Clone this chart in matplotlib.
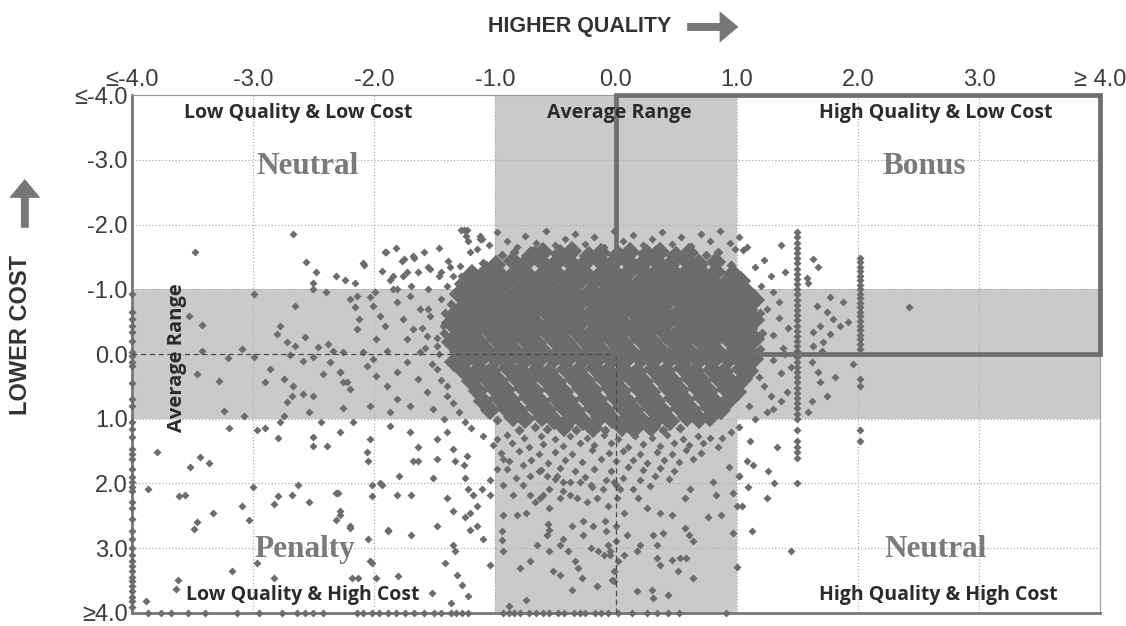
import matplotlib.pyplot as plt
from matplotlib.patches import Rectangle
import numpy as np

# axis ticks (values beyond +-4 are clamped onto the border)
ticks = [-4, -3, -2, -1, 0, 1, 2, 3, 4]
x_tick_labels = ['≤-4.0', '-3.0', '-2.0', '-1.0', '0.0', '1.0', '2.0', '3.0', '≥ 4.0']
y_tick_labels = ['≤-4.0', '-3.0', '-2.0', '-1.0', '0.0', '1.0', '2.0', '3.0', '≥4.0']

# dense centre of the cloud (quality, cost)
core_pts = [
    (-0.94, -1.53), (-0.84, -1.58), (-0.70, -1.52), (-0.60, -1.57), (-0.46, -1.54), (-0.36, -1.59), (-0.22, -1.52), (-0.12, -1.56),
    (0.02, -1.53), (0.12, -1.58), (0.26, -1.54), (0.36, -1.57), (0.50, -1.52), (0.60, -1.56), (0.74, -1.53), (0.84, -1.58),
    (-1.10, -1.41), (-0.99, -1.38), (-0.85, -1.43), (-0.75, -1.39), (-0.61, -1.42), (-0.51, -1.37), (-0.37, -1.41), (-0.27, -1.38),
    (-0.13, -1.43), (-0.03, -1.39), (0.11, -1.42), (0.21, -1.37), (0.35, -1.41), (0.45, -1.38), (0.59, -1.43), (0.69, -1.39),
    (0.83, -1.42), (0.95, -1.38),
    (-1.19, -1.23), (-1.07, -1.28), (-0.97, -1.24), (-0.83, -1.27), (-0.73, -1.22), (-0.59, -1.26), (-0.49, -1.23), (-0.35, -1.28),
    (-0.25, -1.24), (-0.11, -1.27), (0.01, -1.22), (0.11, -1.26), (0.25, -1.23), (0.35, -1.28), (0.49, -1.24), (0.59, -1.27),
    (0.73, -1.22), (0.83, -1.26), (0.97, -1.23),
    (-1.26, -1.08), (-1.13, -1.12), (-1.03, -1.09), (-0.89, -1.13), (-0.79, -1.08), (-0.65, -1.11), (-0.55, -1.07), (-0.41, -1.12),
    (-0.31, -1.09), (-0.17, -1.13), (-0.07, -1.08), (0.07, -1.11), (0.17, -1.07), (0.31, -1.12), (0.41, -1.09), (0.55, -1.13),
    (0.65, -1.08), (0.79, -1.11), (0.89, -1.07), (1.03, -1.12),
    (-1.30, -0.93), (-1.17, -0.97), (-1.07, -0.94), (-0.93, -0.98), (-0.83, -0.93), (-0.69, -0.96), (-0.59, -0.92), (-0.45, -0.97),
    (-0.35, -0.94), (-0.21, -0.98), (-0.11, -0.93), (0.03, -0.96), (0.13, -0.92), (0.27, -0.97), (0.37, -0.94), (0.51, -0.98),
    (0.61, -0.93), (0.75, -0.96), (0.85, -0.92), (0.99, -0.97), (1.09, -0.94),
    (-1.36, -0.78), (-1.23, -0.82), (-1.13, -0.79), (-0.99, -0.83), (-0.89, -0.78), (-0.75, -0.81), (-0.65, -0.77), (-0.51, -0.82),
    (-0.41, -0.79), (-0.27, -0.83), (-0.17, -0.78), (-0.03, -0.81), (0.07, -0.77), (0.21, -0.82), (0.31, -0.79), (0.45, -0.83),
    (0.55, -0.78), (0.69, -0.81), (0.79, -0.77), (0.93, -0.82), (1.03, -0.79), (1.15, -0.83),
    (-1.41, -0.63), (-1.30, -0.67), (-1.17, -0.64), (-1.07, -0.68), (-0.93, -0.63), (-0.83, -0.66), (-0.69, -0.62), (-0.59, -0.67),
    (-0.45, -0.64), (-0.35, -0.68), (-0.21, -0.63), (-0.11, -0.66), (0.03, -0.62), (0.13, -0.67), (0.27, -0.64), (0.37, -0.68),
    (0.51, -0.63), (0.61, -0.66), (0.75, -0.62), (0.85, -0.67), (0.99, -0.64), (1.09, -0.68), (1.19, -0.63),
    (-1.36, -0.48), (-1.23, -0.52), (-1.13, -0.49), (-0.99, -0.53), (-0.89, -0.48), (-0.75, -0.51), (-0.65, -0.47), (-0.51, -0.52),
    (-0.41, -0.49), (-0.27, -0.53), (-0.17, -0.48), (-0.03, -0.51), (0.07, -0.47), (0.21, -0.52), (0.31, -0.49), (0.45, -0.53),
    (0.55, -0.48), (0.69, -0.51), (0.79, -0.47), (0.93, -0.52), (1.03, -0.49), (1.15, -0.53),
    (-1.42, -0.33), (-1.30, -0.37), (-1.17, -0.34), (-1.07, -0.38), (-0.93, -0.33), (-0.83, -0.36), (-0.69, -0.32), (-0.59, -0.37),
    (-0.45, -0.34), (-0.35, -0.38), (-0.21, -0.33), (-0.11, -0.36), (0.03, -0.32), (0.13, -0.37), (0.27, -0.34), (0.37, -0.38),
    (0.51, -0.33), (0.61, -0.36), (0.75, -0.32), (0.85, -0.37), (0.99, -0.34), (1.09, -0.38), (1.21, -0.33),
    (-1.36, -0.18), (-1.23, -0.22), (-1.13, -0.19), (-0.99, -0.23), (-0.89, -0.18), (-0.75, -0.21), (-0.65, -0.17), (-0.51, -0.22),
    (-0.41, -0.19), (-0.27, -0.23), (-0.17, -0.18), (-0.03, -0.21), (0.07, -0.17), (0.21, -0.22), (0.31, -0.19), (0.45, -0.23),
    (0.55, -0.18), (0.69, -0.21), (0.79, -0.17), (0.93, -0.22), (1.03, -0.19), (1.15, -0.23),
    (-1.30, -0.03), (-1.17, -0.07), (-1.07, -0.04), (-0.93, -0.08), (-0.83, -0.03), (-0.69, -0.06), (-0.59, -0.02), (-0.45, -0.07),
    (-0.35, -0.04), (-0.21, -0.08), (-0.11, -0.03), (0.03, -0.06), (0.13, -0.02), (0.27, -0.07), (0.37, -0.04), (0.51, -0.08),
    (0.61, -0.03), (0.75, -0.06), (0.85, -0.02), (0.99, -0.07), (1.09, -0.04), (1.19, -0.08),
    (-1.34, 0.12), (-1.23, 0.08), (-1.13, 0.11), (-0.99, 0.07), (-0.89, 0.12), (-0.75, 0.09), (-0.65, 0.13), (-0.51, 0.08),
    (-0.41, 0.11), (-0.27, 0.07), (-0.17, 0.12), (-0.03, 0.09), (0.07, 0.13), (0.21, 0.08), (0.31, 0.11), (0.45, 0.07),
    (0.55, 0.12), (0.69, 0.09), (0.79, 0.13), (0.93, 0.08), (1.03, 0.11), (1.14, 0.07),
    (-1.26, 0.27), (-1.13, 0.23), (-1.03, 0.26), (-0.89, 0.22), (-0.79, 0.27), (-0.65, 0.24), (-0.55, 0.28), (-0.41, 0.23),
    (-0.31, 0.26), (-0.17, 0.22), (-0.07, 0.27), (0.07, 0.24), (0.17, 0.28), (0.31, 0.23), (0.41, 0.26), (0.55, 0.22),
    (0.65, 0.27), (0.79, 0.24), (0.89, 0.28), (1.03, 0.23), (1.10, 0.27),
    (-1.20, 0.42), (-1.07, 0.38), (-0.97, 0.41), (-0.83, 0.37), (-0.73, 0.42), (-0.59, 0.39), (-0.49, 0.43), (-0.35, 0.38),
    (-0.25, 0.41), (-0.11, 0.37), (-0.01, 0.42), (0.13, 0.39), (0.23, 0.43), (0.37, 0.38), (0.47, 0.41), (0.61, 0.37),
    (0.71, 0.42), (0.85, 0.39), (0.95, 0.43), (1.05, 0.38),
    (-1.14, 0.57), (-1.01, 0.53), (-0.91, 0.56), (-0.77, 0.52), (-0.67, 0.57), (-0.53, 0.54), (-0.43, 0.58), (-0.29, 0.53),
    (-0.19, 0.56), (-0.05, 0.52), (0.05, 0.57), (0.19, 0.54), (0.29, 0.58), (0.43, 0.53), (0.53, 0.56), (0.67, 0.52),
    (0.77, 0.57), (0.91, 0.54), (1.00, 0.58),
    (-1.10, 0.72), (-0.97, 0.68), (-0.87, 0.71), (-0.73, 0.67), (-0.63, 0.72), (-0.49, 0.69), (-0.39, 0.73), (-0.25, 0.68),
    (-0.15, 0.71), (-0.01, 0.67), (0.09, 0.72), (0.23, 0.69), (0.33, 0.73), (0.47, 0.68), (0.57, 0.71), (0.71, 0.67),
    (0.81, 0.72), (0.94, 0.69),
    (-1.04, 0.87), (-0.91, 0.83), (-0.81, 0.86), (-0.67, 0.82), (-0.57, 0.87), (-0.43, 0.84), (-0.33, 0.88), (-0.19, 0.83),
    (-0.09, 0.86), (0.05, 0.82), (0.15, 0.87), (0.29, 0.84), (0.39, 0.88), (0.53, 0.83), (0.63, 0.86), (0.77, 0.82), (0.87, 0.87),
    (-0.98, 1.02), (-0.85, 0.98), (-0.75, 1.01), (-0.61, 0.97), (-0.51, 1.02), (-0.37, 0.99), (-0.27, 1.03), (-0.13, 0.98),
    (-0.03, 1.01), (0.11, 0.97), (0.21, 1.02), (0.35, 0.99), (0.45, 1.03), (0.59, 0.98), (0.69, 1.01), (0.78, 0.97),
    (-0.80, 1.17), (-0.67, 1.13), (-0.57, 1.16), (-0.43, 1.12), (-0.33, 1.17), (-0.19, 1.14), (-0.09, 1.18), (0.05, 1.13),
    (0.15, 1.16), (0.29, 1.12), (0.39, 1.17), (0.53, 1.14),
]

# looser ring round the centre
fringe_pts = [
    (-1.28, -1.92), (-1.22, -1.75), (-1.12, -1.82), (-1.05, -1.68), (-0.98, -1.88), (-0.90, -1.74), (-0.82, -1.66), (-0.75, -1.83),
    (-0.66, -1.72), (-0.58, -1.90), (-0.50, -1.68), (-0.42, -1.78), (-0.34, -1.86), (-0.26, -1.70), (-0.18, -1.80), (-0.10, -1.66),
    (-0.02, -1.90), (0.06, -1.74), (0.14, -1.84), (0.22, -1.68), (0.30, -1.78), (0.38, -1.88), (0.46, -1.70), (0.54, -1.80),
    (0.62, -1.67), (0.70, -1.86), (0.78, -1.74), (0.86, -1.90), (0.94, -1.72), (1.02, -1.80), (1.08, -1.65), (0.98, -1.62),
    (0.32, -1.62), (-0.68, -1.62),
    (-2.67, -1.85), (-3.48, -1.57), (-2.56, -1.42), (-2.48, -1.26), (-2.31, -1.20), (-2.24, -1.15), (-2.16, -1.10), (-2.08, -1.38),
    (-1.90, -1.57), (-1.82, -1.64), (-1.75, -1.46), (-1.67, -1.49), (-1.59, -1.57), (-1.46, -1.64), (-1.26, -1.92), (-1.24, -1.82),
    (-1.12, -1.77), (-2.99, -0.92), (-2.65, -0.74), (-2.50, -1.10), (-2.50, -1.00), (-2.40, -0.95), (-1.93, -1.28), (-1.84, -1.20),
    (-1.73, -1.26), (-1.55, -1.35), (-1.46, -1.20), (-1.37, -1.35), (-1.28, -1.20), (-2.14, -0.90), (-1.99, -0.95), (-1.84, -1.00),
    (-1.69, -1.05), (-1.55, -1.00), (-1.40, -1.05), (-2.09, -1.41), (-1.91, -1.58), (-1.77, -1.43), (-1.68, -1.51), (-1.39, -1.43),
    (-1.29, -1.36), (-1.23, -1.92), (-1.21, -1.57), (-1.15, -1.62), (-1.11, -1.77), (-1.87, -1.15), (-1.76, -1.20), (-1.64, -1.26),
    (-1.54, -1.31), (-1.45, -1.26), (-1.35, -1.20), (-1.81, -1.00), (-2.20, -0.85), (-2.16, -0.72), (-2.03, -0.88), (-2.01, -0.74),
    (-2.12, -0.54), (-2.14, -0.38), (-1.95, -0.58), (-1.91, -0.43), (-1.81, -0.80), (-1.70, -0.89), (-1.62, -0.69), (-1.76, -0.54),
    (-1.68, -0.38), (-1.54, -0.58), (-1.45, -0.85), (-1.43, -0.43), (-1.37, -0.65), (-2.09, -0.03), (-2.01, 0.08), (-1.89, -0.05),
    (-2.28, 0.28), (-2.26, 0.43), (-2.20, 0.54), (-2.06, 0.18), (-1.98, 0.34), (-1.89, 0.49), (-1.81, 0.28), (-1.73, 0.12),
    (-1.64, 0.38), (-1.56, 0.58), (-1.81, 0.69), (-1.70, 0.80), (-1.87, 0.89), (-2.03, 0.80), (-1.48, 0.23), (-1.40, 0.49),
    (-1.51, 0.85), (-1.62, -0.03), (-1.48, -0.12), (-1.73, -0.23), (-1.56, -0.28), (-1.98, -0.23), (-2.26, -0.03),
    (-1.55, -0.70), (-1.60, -0.40), (-1.58, -0.10), (-1.52, 0.15), (-1.45, 0.40), (-1.40, 0.65), (-1.30, 0.90), (-1.25, 1.05),
    (-1.48, -0.25), (-1.46, 0.00), (-1.35, 0.75), (-1.42, 1.00), (-1.20, 1.15),
    (1.22, -1.45), (1.28, -1.20), (1.30, -0.95), (1.25, -0.70), (1.35, -0.55), (1.30, -0.30), (1.38, -0.10), (1.30, 0.10),
    (1.36, 0.30), (1.22, 0.50), (1.28, 0.65), (1.10, 0.80), (1.15, 1.00), (1.02, 1.12), (0.95, 1.20), (1.05, -1.60),
    (1.15, -1.35), (1.20, -1.05), (1.35, -0.80), (1.42, -0.40), (1.40, 0.00), (1.45, 0.20), (1.18, 0.35), (1.25, 0.90), (0.88, 1.30),
    (1.36, -1.69), (1.63, -1.46), (1.67, -1.34), (1.58, -1.18), (1.59, -1.10), (1.40, -1.26), (1.77, -0.88), (1.88, -0.80),
    (1.66, -0.74), (1.74, -0.65), (1.79, -0.54), (1.92, -0.49), (1.85, -0.43), (1.69, -0.43), (1.63, -0.34), (1.77, -0.31),
    (1.71, -0.18), (1.63, -0.12), (1.70, -0.05), (1.96, 0.15), (1.62, 0.12), (1.67, 0.28), (1.69, 0.43), (1.81, 0.35),
    (1.62, 0.72), (1.74, 0.65), (1.59, 0.89), (1.41, 0.58), (1.36, 0.72), (1.30, 0.85), (2.42, -0.72),
    (1.11, 1.35), (1.33, 1.43), (1.08, 1.66), (1.13, 1.72), (1.26, 1.80), (1.02, 1.88), (1.09, 2.06), (1.31, 2.00),
    (1.25, 2.22), (1.04, 2.35), (0.97, 2.77), (1.12, 2.74), (1.45, 3.05), (1.00, 3.29),
]

# lower half: the wedge below the centre
lower_pts = [
    (-1.10, 1.27), (-0.98, 1.31), (-0.90, 1.25), (-0.76, 1.30), (-0.62, 1.26), (-0.50, 1.32), (-0.38, 1.27), (-0.24, 1.30),
    (-0.10, 1.25), (0.02, 1.31), (0.16, 1.27), (0.30, 1.30), (0.42, 1.25), (0.55, 1.31), (0.68, 1.27), (0.78, 1.30),
    (-1.02, 1.41), (-0.86, 1.38), (-0.72, 1.43), (-0.60, 1.39), (-0.44, 1.42), (-0.30, 1.37), (-0.18, 1.41), (-0.04, 1.38),
    (0.10, 1.43), (0.22, 1.39), (0.36, 1.42), (0.48, 1.37), (0.60, 1.41), (0.72, 1.38), (0.84, 1.43),
    (-0.95, 1.53), (-0.80, 1.50), (-0.64, 1.55), (-0.50, 1.51), (-0.36, 1.54), (-0.20, 1.49), (-0.06, 1.53), (0.06, 1.50),
    (0.20, 1.55), (0.34, 1.51), (0.46, 1.54), (0.58, 1.49), (0.70, 1.53),
    (-0.88, 1.66), (-0.70, 1.63), (-0.56, 1.68), (-0.42, 1.64), (-0.28, 1.67), (-0.12, 1.62), (0.00, 1.66), (0.14, 1.63),
    (0.26, 1.68), (0.40, 1.64), (0.52, 1.67), (0.64, 1.62),
    (-0.62, 1.79), (-0.46, 1.76), (-0.34, 1.81), (-0.18, 1.77), (-0.04, 1.80), (0.10, 1.75), (0.22, 1.79), (0.36, 1.76), (0.48, 1.81),
    (-0.50, 1.93), (-0.26, 1.90), (-0.08, 1.95), (0.06, 1.91), (0.20, 1.94), (0.32, 1.89), (0.44, 1.93),
    (-0.20, 2.06), (0.00, 2.03), (0.14, 2.08), (0.28, 2.04),
    (-0.02, 3.51), (0.17, 3.66), (0.30, 3.64), (0.31, 3.77), (0.43, 3.72), (0.51, 3.35), (0.64, 3.46), (0.58, 3.15),
    (0.46, 3.18), (0.36, 3.26), (0.34, 3.15), (0.20, 2.95), (0.17, 3.05), (0.07, 3.11), (0.02, 3.20), (-0.10, 3.11),
    (0.00, 2.89), (0.09, 2.80), (0.31, 2.80), (0.39, 2.77), (0.34, 2.95), (0.64, 2.89), (0.60, 2.80), (0.57, 2.69),
    (0.53, 3.15), (0.76, 2.51), (0.87, 2.49), (0.83, 2.18), (0.97, 2.15), (0.93, 1.74), (0.80, 1.97), (0.61, 2.08),
    (0.57, 2.23), (0.46, 2.49), (0.36, 2.46), (0.26, 2.38), (0.18, 2.23), (0.07, 2.46), (0.00, 2.65), (-0.08, 2.74),
    (-0.05, 3.05), (1.02, 1.89), (1.00, 2.34),
    (-0.93, 1.62), (-0.98, 1.77), (-0.90, 1.77), (-0.83, 1.92), (-0.93, 2.03), (-0.77, 2.03), (-0.71, 2.18), (-0.85, 2.18),
    (-0.93, 2.49), (-0.94, 2.74), (-0.94, 2.88), (-0.93, 3.05), (-0.79, 3.31), (-0.71, 3.20), (-0.74, 3.80), (-0.88, 3.89),
    (-0.65, 2.95), (-0.57, 2.80), (-0.55, 2.72), (-0.55, 3.05), (-0.46, 2.95), (-0.44, 2.85), (-0.40, 3.05), (-0.34, 3.20),
    (-0.31, 3.31), (-0.28, 3.46), (-0.52, 3.35), (-0.46, 3.42), (-0.36, 3.64), (-0.16, 3.58), (-0.03, 3.49), (-0.02, 3.35),
    (-0.05, 3.11), (-0.07, 2.95), (-0.15, 3.05), (-0.21, 3.00), (-0.27, 2.80), (-0.36, 2.65), (-0.27, 2.58), (-0.19, 2.65),
    (-0.09, 2.58), (-0.55, 2.38), (-0.46, 2.23), (-0.63, 2.23), (-0.56, 2.62), (-0.74, 2.46), (-0.82, 2.49), (-0.67, 2.28),
    (-0.60, 2.18), (-0.55, 2.08), (-0.44, 2.11), (-0.38, 2.18), (-0.32, 2.23), (-0.24, 2.28), (-0.16, 2.23), (-0.07, 2.34),
    (0.01, 2.23), (-0.77, 1.72), (-0.71, 1.88), (-0.64, 1.80), (-0.57, 1.89), (-0.49, 1.88), (-0.44, 1.97), (-0.38, 1.97),
    (-0.30, 1.97), (-0.21, 2.03), (-0.11, 2.08), (-0.02, 1.97), (0.03, 2.08),
]

# scattered low-quality points on the left
sparse_pts = [
    (-3.53, -0.59), (-3.42, -0.45), (-2.78, -0.43), (-2.80, -0.31), (-2.72, -0.18), (-2.65, -0.12), (-2.57, -0.26), (-3.42, -0.05),
    (-3.09, -0.08), (-3.21, 0.06), (-2.99, 0.05), (-2.69, 0.02), (-2.59, 0.11), (-2.50, 0.05), (-2.46, -0.11), (-2.38, -0.15),
    (-2.34, -0.05), (-3.46, 0.31), (-3.28, 0.42), (-2.86, 0.23), (-2.90, 0.43), (-2.74, 0.38), (-2.67, 0.49), (-2.59, 0.62),
    (-2.50, 0.65), (-2.42, 0.31), (-2.36, 0.12), (-2.28, 0.28), (-2.22, 0.43), (-2.72, 0.74), (-2.68, 0.65), (-3.24, 0.88),
    (-3.07, 0.95), (-2.78, 1.05), (-2.74, 0.95), (-2.54, 0.89), (-2.44, 1.05), (-2.26, 0.83), (-2.17, 1.05), (-3.20, 1.15),
    (-2.97, 1.18), (-2.90, 1.15), (-2.79, 1.29), (-2.50, 1.28), (-2.50, 1.42), (-2.39, 1.42), (-2.28, 1.20), (-3.79, 1.51),
    (-3.44, 1.59), (-3.52, 1.74), (-3.36, 1.69), (-3.87, 2.09), (-3.61, 2.20), (-3.56, 2.18), (-3.00, 2.05), (-3.33, 2.46),
    (-3.09, 2.35), (-3.03, 2.57), (-2.83, 2.32), (-2.79, 2.19), (-2.68, 2.18), (-2.63, 2.03), (-2.54, 2.29), (-2.30, 2.15),
    (-2.28, 2.43), (-2.31, 2.57), (-2.20, 2.66), (-3.46, 2.60), (-3.49, 2.71), (-2.97, 3.23), (-3.17, 3.35), (-2.83, 3.46),
    (-3.62, 3.49), (-3.64, 3.63), (-3.88, 3.82), (-2.18, 3.46),
    (-2.03, 1.31), (-2.06, 1.51), (-2.05, 1.65), (-2.02, 2.03), (-1.93, 2.03), (-2.02, 2.20), (-1.79, 1.89), (-1.81, 2.18),
    (-1.69, 2.18), (-1.87, 1.11), (-1.70, 1.20), (-1.64, 1.43), (-1.64, 1.65), (-1.48, 1.31), (-1.48, 1.62), (-1.51, 1.92),
    (-1.40, 1.20), (-1.35, 1.46), (-1.33, 1.65), (-1.23, 1.58), (-1.26, 1.72), (-1.25, 1.92), (-1.22, 2.08), (-1.18, 2.18),
    (-1.11, 2.08), (-1.15, 2.34), (-1.21, 2.46), (-1.25, 2.51), (-1.40, 2.23), (-1.35, 2.43), (-1.04, 1.95), (-1.04, 2.18),
    (-1.48, 2.65), (-1.15, 2.65), (-1.21, 2.72), (-1.10, 2.85), (-1.35, 2.95), (-1.33, 3.05), (-1.41, 3.23), (-1.31, 3.42),
    (-1.27, 3.57), (-1.22, 3.74), (-1.36, 3.85), (-1.04, 3.26), (-1.52, 3.69), (-2.03, 3.20), (-1.98, 3.46), (-2.13, 3.46),
    (-1.80, 3.43), (-1.69, 2.80), (-1.88, 2.74), (-2.05, 2.85), (-2.31, 2.15), (-2.28, 2.49), (-2.20, 2.69), (-1.95, 2.00),
    (-1.68, 1.66), (-2.02, 3.23), (-1.88, 2.72),
]

# vertical runs of points at quality 1.5 and 2.0
col15_x = 1.50
col15_y = [-1.88, -1.80, -1.72, -1.64, -1.56, -1.48, -1.40, -1.32, -1.24, -1.16, -1.08, -1.00, -0.92, -0.84, -0.76,
           -0.68, -0.60, -0.52, -0.44, -0.36, -0.28, -0.20, -0.12, -0.04, 0.04, 0.12, 0.20, 0.28, 0.36, 0.44, 0.52,
           0.60, 0.68, 0.76, 0.84, 0.92, 1.00, 1.18, 1.34, 1.43, 1.51, 1.60, 2.00]
col20_x = 2.02
col20_y = [-1.49, -1.42, -1.35, -1.28, -1.21, -1.14, -1.07, -1.00, -0.93, -0.86, -0.79, -0.72, -0.65, -0.58, -0.51,
           -0.44, -0.37, -0.30, -0.23, -0.16, -0.08, 0.38, 0.49, 1.18, 1.34]

# points clamped onto the left and bottom border
left_edge_y = [-0.92, -0.65, -0.54, -0.43, -0.34, -0.20, -0.03, 0.03, 0.12, 0.18, 0.45, 0.69, 0.80, 1.05, 1.16, 1.28,
               1.46, 1.55, 1.62, 1.77, 1.90, 1.97, 2.05, 2.12, 2.28, 2.38, 2.55, 2.74, 2.85, 3.00, 3.10, 3.20, 3.28,
               3.35, 3.45, 3.51, 3.58, 3.66, 3.75, 3.82, 3.90]
bottom_edge_x = [-3.87, -3.76, -3.68, -3.54, -3.40, -3.13, -2.95, -2.76, -2.64, -2.57, -2.50, -2.42, -2.14, -2.09,
                 -2.02, -1.96, -1.88, -1.82, -1.74, -1.67, -1.59, -1.50, -1.45, -1.36, -1.32, -1.27, -1.22, -0.93,
                 -0.88, -0.84, -0.79, -0.72, -0.66, -0.60, -0.55, -0.48, -0.43, -0.35, -0.30, -0.26, -0.17, -0.12,
                 -0.07, 0.02, 0.13, 0.26, 0.34, 0.43, 0.52, 0.91]

quadrant_labels = ['Low Quality & Low Cost', 'High Quality & Low Cost',
                   'Low Quality & High Cost', 'High Quality & High Cost']
zone_labels = ['Neutral', 'Bonus', 'Penalty', 'Neutral']

dot = '#6c6c6c'
band = '#cacaca'
small = 4.0
big = 9.0

fig = plt.figure(figsize=(11.26, 6.26), dpi=100)
ax = fig.add_axes([0.1172, 0.0208, 0.8597, 0.8274])
ax.set_xlim(-4, 4)
ax.set_ylim(4, -4)

# average range bands
ax.axvspan(-1, 1, color=band, lw=0, zorder=0)
ax.axhspan(-1, 1, color=band, lw=0, zorder=0)
ax.set_axisbelow(True)
ax.grid(True, ls=':', color='#b0b0b0', lw=0.9)

def xy(pts):
    a = np.array(pts)
    return a[:, 0], a[:, 1]

# the centre is drawn with larger marks so that it reads as one dense mass;
# its outer rim keeps the normal mark size so the edge stays ragged
cx, cy = xy(core_pts)
rim = np.abs((cx + 0.1) / 1.28) ** 3 + np.abs((cy + 0.25) / 1.42) ** 3 > 1
ax.plot(cx[~rim], cy[~rim], 'D', ms=big, color=dot, mec=dot, mew=1.2, zorder=3)
ax.plot(cx[rim], cy[rim], 'D', ms=small + 0.6, color=dot, mec='none', zorder=3)
for group in (fringe_pts, lower_pts, sparse_pts):
    gx, gy = xy(group)
    ax.plot(gx, gy, 'D', ms=small, color=dot, mec='none', zorder=3, clip_on=False)
ax.plot([col15_x] * len(col15_y), col15_y, 'D', ms=small, color=dot, mec='none', zorder=3)
ax.plot([col20_x] * len(col20_y), col20_y, 'D', ms=small, color=dot, mec='none', zorder=3)
ax.plot([-4] * len(left_edge_y), left_edge_y, 'D', ms=small, color=dot, mec='none', zorder=3, clip_on=False)
ax.plot(bottom_edge_x, [4] * len(bottom_edge_x), 'D', ms=small, color=dot, mec='none', zorder=3, clip_on=False)

ax.axhline(0, color='#4a4a4a', lw=0.9, ls=(0, (4, 3)), zorder=4)
ax.axvline(0, color='#4a4a4a', lw=0.9, ls=(0, (4, 3)), zorder=4)

# bonus quadrant frame
ax.add_patch(Rectangle((0, -4), 4, 4, fill=False, ec='#6e6e6e', lw=3.4, zorder=6, clip_on=False))

ax.xaxis.tick_top()
ax.set_xticks(ticks)
ax.set_xticklabels(x_tick_labels)
ax.set_yticks(ticks)
ax.set_yticklabels(y_tick_labels)
ax.tick_params(length=0, labelsize=17, labelcolor='#3c3c3c', pad=3)
for lab in ax.get_xticklabels() + ax.get_yticklabels():
    lab.set_family('Liberation Sans')

for side in ('left', 'bottom'):
    ax.spines[side].set_color('#777777')
    ax.spines[side].set_linewidth(2.0)
ax.spines['top'].set_color('#9a9a9a')
ax.spines['right'].set_color('#a0a0a0')

lab_kw = dict(ha='center', va='center', fontweight='bold', color='#2b2b2b', family='Open Sans', zorder=7)
ax.text(-2.63, -3.72, quadrant_labels[0], fontsize=14, **lab_kw)
ax.text(0.03, -3.72, 'Average Range', fontsize=14, **lab_kw)
ax.text(2.64, -3.72, quadrant_labels[1], fontsize=14, **lab_kw)
ax.text(-2.59, 3.73, quadrant_labels[2], fontsize=14, **lab_kw)
ax.text(2.66, 3.73, quadrant_labels[3], fontsize=14, **lab_kw)
ax.text(-3.63, 0.05, 'Average Range', rotation=90, fontsize=14.5, **lab_kw)

zone_kw = dict(ha='center', va='center', fontsize=22.5, fontweight='bold', color='#7a7a7a',
               family='Liberation Serif', zorder=7)
ax.text(-2.55, -2.9, zone_labels[0], **zone_kw)
ax.text(2.55, -2.9, zone_labels[1], **zone_kw)
ax.text(-2.57, 3.02, zone_labels[2], **zone_kw)
ax.text(2.64, 3.02, zone_labels[3], **zone_kw)

# axis titles with arrows
fig.text(0.515, 0.957, 'HIGHER QUALITY', ha='center', va='center', fontsize=15.5,
         fontweight='bold', color='#333333', family='Liberation Sans')
fig.text(0.018, 0.465, 'LOWER COST', ha='center', va='center', rotation=90, fontsize=17,
         fontweight='bold', color='#333333', family='Liberation Sans')
arrow = dict(arrowstyle='simple,head_length=0.6,head_width=1.0,tail_width=0.25',
             color='#777777', lw=0, mutation_scale=22)
fig.add_artist(plt.annotate('', xy=(0.658, 0.957), xytext=(0.608, 0.957),
                            xycoords='figure fraction', arrowprops=arrow))
fig.add_artist(plt.annotate('', xy=(0.022, 0.718), xytext=(0.022, 0.632),
                            xycoords='figure fraction', arrowprops=arrow))

fig.savefig('out.png', dpi=100, facecolor='white')
